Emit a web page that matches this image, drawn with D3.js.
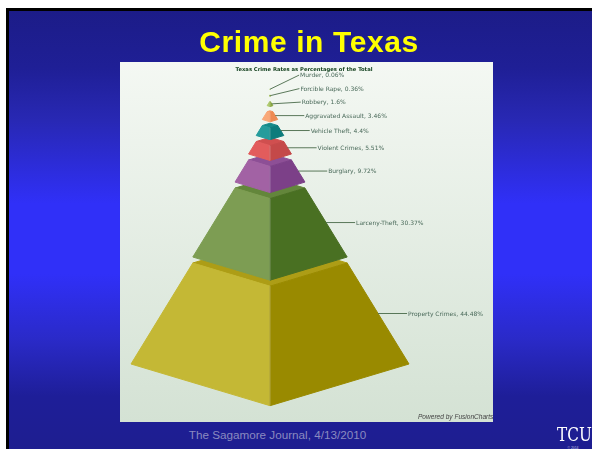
<!DOCTYPE html>
<html>
<head>
<meta charset="utf-8">
<script src="https://cdnjs.cloudflare.com/ajax/libs/d3/7.8.5/d3.min.js"></script>
<style>
  html, body { margin: 0; padding: 0; background: #fff; overflow: hidden; }
  svg { display: block; }
</style>
</head>
<body>
<div id="chart"></div>
<script>
'use strict'

// bottom segment first, the way the pyramid stacks up
const categories = ['Property Crimes', 'Larceny-Theft', 'Burglary', 'Violent Crimes', 'Vehicle Theft',
  'Aggravated Assault', 'Robbery', 'Forcible Rape', 'Murder']
const percents = [44.48, 30.37, 9.72, 5.51, 4.4, 3.46, 1.6, 0.36, 0.06]
const leftColors = ['#c4b835', '#7d9d52', '#a262a4', '#e25c5c', '#259c9c', '#f9a878', '#b0cc70', '#b0cc70', '#b0cc70']
const rightColors = ['#998a02', '#4a6f24', '#7c4088', '#c44848', '#0f7c7c', '#ee8a52', '#8aa840', '#8aa840', '#8aa840']
const topColors = ['#ad9d14', '#64863a', '#8d5096', '#d05050', '#188a8a', '#f49868', '#a0bc58', '#a0bc58', '#a0bc58']

const width = 592
const height = 449
const cx = 270
const gap = 6
const depth = 0.3
const labelStep = 13.5

const svg = d3.select('#chart')
  .append('svg')
  .attr('width', width)
  .attr('height', height)

const defs = svg.append('defs')

const slideGrad = defs.append('linearGradient')
  .attr('id', 'slide-bg')
  .attr('x1', 0).attr('y1', 0).attr('x2', 0).attr('y2', 1)
slideGrad.selectAll('stop')
  .data([[0, '#1c1c88'], [0.13, '#1f1f96'], [0.25, '#2828b4'], [0.44, '#3030f8'], [0.6, '#3030f8'],
    [0.75, '#2a2ac8'], [0.88, '#1e1e98'], [1, '#1e1e90']])
  .enter()
  .append('stop')
  .attr('offset', d => d[0])
  .attr('stop-color', d => d[1])

const panelGrad = defs.append('linearGradient')
  .attr('id', 'panel-bg')
  .attr('x1', 0).attr('y1', 0).attr('x2', 0).attr('y2', 1)
panelGrad.selectAll('stop')
  .data([[0, '#f4f8f3'], [1, '#d4e2d4']])
  .enter()
  .append('stop')
  .attr('offset', d => d[0])
  .attr('stop-color', d => d[1])

defs.append('filter').attr('id', 'soft')
  .append('feGaussianBlur').attr('stdDeviation', 0.5)
defs.append('filter').attr('id', 'soft-text')
  .append('feGaussianBlur').attr('stdDeviation', 0.3)
defs.append('clipPath').attr('id', 'panel-clip')
  .append('rect').attr('x', 120).attr('y', 62).attr('width', 373).attr('height', 360)

// slide frame
svg.append('rect').attr('x', 6).attr('y', 8).attr('width', width - 6).attr('height', height - 8).attr('fill', '#000')
svg.append('rect').attr('x', 9).attr('y', 11).attr('width', width - 9).attr('height', height - 11).attr('fill', 'url(#slide-bg)')

svg.append('text')
  .attr('x', 309).attr('y', 52)
  .attr('text-anchor', 'middle')
  .attr('font-family', '"Liberation Sans", Arial, sans-serif')
  .attr('font-weight', 'bold')
  .attr('font-size', 30)
  .attr('letter-spacing', 0.6)
  .attr('fill', '#ffff00')
  .attr('filter', 'url(#soft-text)')
  .text('Crime in Texas')

svg.append('rect')
  .attr('x', 120).attr('y', 62).attr('width', 373).attr('height', 360)
  .attr('fill', 'url(#panel-bg)')

// scales: height and half width of the pyramid both run on the cumulative percentage
const yScale = d3.scaleLinear().domain([0, 100]).range([364, 137])
const halfWidth = d3.scaleLinear().domain([0, 100]).range([139, 0])

const cumulative = d3.cumsum(percents)
const segments = categories.map((name, i) => {
  const from = i === 0 ? 0 : cumulative[i - 1]
  const to = cumulative[i]
  const shift = gap * i
  return {
    name,
    value: percents[i],
    i,
    yBottom: yScale(from) - shift,
    yTop: yScale(to) - shift,
    hwBottom: halfWidth(from),
    hwTop: halfWidth(Math.min(to, 100))
  }
})

const toPath = pts => d3.line()(pts) + 'Z'

const pyramid = svg.append('g').attr('filter', 'url(#soft)')
const seg = pyramid.selectAll('g.segment')
  .data(segments)
  .enter()
  .append('g')
  .attr('class', 'segment')

seg.append('path')
  .attr('fill', d => topColors[d.i])
  .attr('stroke', d => topColors[d.i])
  .attr('stroke-width', 1)
  .attr('stroke-linejoin', 'round')
  .attr('d', d => toPath([
    [cx - d.hwTop, d.yTop],
    [cx, d.yTop + d.hwTop * depth],
    [cx + d.hwTop, d.yTop],
    [cx, d.yTop - d.hwTop * depth]
  ]))

seg.append('path')
  .attr('fill', d => leftColors[d.i])
  .attr('stroke', d => leftColors[d.i])
  .attr('stroke-width', 1)
  .attr('stroke-linejoin', 'round')
  .attr('d', d => toPath([
    [cx - d.hwTop, d.yTop],
    [cx, d.yTop + d.hwTop * depth],
    [cx, d.yBottom + d.hwBottom * depth],
    [cx - d.hwBottom, d.yBottom]
  ]))

seg.append('path')
  .attr('fill', d => rightColors[d.i])
  .attr('stroke', d => rightColors[d.i])
  .attr('stroke-width', 1)
  .attr('stroke-linejoin', 'round')
  .attr('d', d => toPath([
    [cx + d.hwTop, d.yTop],
    [cx, d.yTop + d.hwTop * depth],
    [cx, d.yBottom + d.hwBottom * depth],
    [cx + d.hwBottom, d.yBottom]
  ]))

// light front edge
seg.append('line')
  .attr('x1', cx)
  .attr('x2', cx)
  .attr('y1', d => d.yTop + d.hwTop * depth)
  .attr('y2', d => d.yBottom + d.hwBottom * depth)
  .attr('stroke', '#fff')
  .attr('stroke-opacity', 0.25)
  .attr('stroke-width', 1)

// leader lines and labels, stacked upward where the top segments get too thin
const placed = segments.map(d => {
  const x = cx + (d.hwBottom + d.hwTop) / 2
  const y = (d.yBottom + d.yTop) / 2
  return { name: d.name, value: d.value, x, y, labelY: y }
})
placed.forEach((d, i) => {
  if (i > 0) d.labelY = Math.min(d.y, placed[i - 1].labelY - labelStep)
})

const labels = svg.append('g').attr('filter', 'url(#soft-text)')
labels.selectAll('line')
  .data(placed)
  .enter()
  .append('line')
  .attr('x1', d => d.x)
  .attr('y1', d => d.y)
  .attr('x2', d => d.x + 29)
  .attr('y2', d => d.labelY)
  .attr('stroke', '#4a6a4a')
  .attr('stroke-width', 0.9)

labels.selectAll('text')
  .data(placed)
  .enter()
  .append('text')
  .attr('x', d => d.x + 30)
  .attr('y', d => d.labelY + 2)
  .attr('font-family', '"DejaVu Sans", sans-serif')
  .attr('font-size', 6)
  .attr('fill', '#4a6a5a')
  .text(d => `${d.name}, ${d.value}%`)

labels.append('text')
  .attr('x', 304).attr('y', 71)
  .attr('text-anchor', 'middle')
  .attr('font-family', '"DejaVu Sans", sans-serif')
  .attr('font-weight', 'bold')
  .attr('font-size', 5.25)
  .attr('fill', '#14401e')
  .text('Texas Crime Rates as Percentages of the Total')

svg.append('g')
  .attr('clip-path', 'url(#panel-clip)')
  .append('text')
  .attr('x', 418).attr('y', 419)
  .attr('font-family', '"Liberation Sans", Arial, sans-serif')
  .attr('font-style', 'italic')
  .attr('font-size', 6.55)
  .attr('fill', '#444')
  .attr('filter', 'url(#soft-text)')
  .text('Powered by FusionCharts')

svg.append('text')
  .attr('x', 277.5).attr('y', 439)
  .attr('text-anchor', 'middle')
  .attr('font-family', '"Liberation Sans", Arial, sans-serif')
  .attr('font-size', 11.7)
  .attr('fill', '#8a8ac0')
  .text('The Sagamore Journal, 4/13/2010')

svg.append('text')
  .attr('transform', 'translate(557,441) scale(0.85,1)')
  .attr('font-family', '"DejaVu Serif", serif')
  .attr('font-size', 18)
  .attr('fill', '#ffffff')
  .attr('filter', 'url(#soft-text)')
  .text('TCU')

svg.append('text')
  .attr('x', 573).attr('y', 448.5)
  .attr('text-anchor', 'middle')
  .attr('font-family', '"Liberation Sans", Arial, sans-serif')
  .attr('font-size', 3.4)
  .attr('fill', '#c4c4e0')
  .text('© 2014')
</script>
</body>
</html>
